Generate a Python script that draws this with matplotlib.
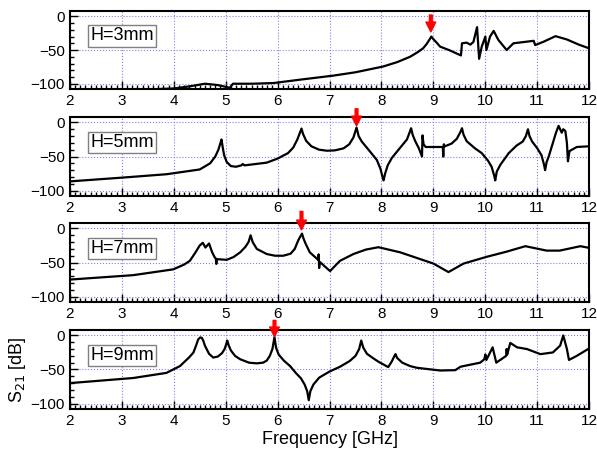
import matplotlib
matplotlib.use("Agg")
import matplotlib.pyplot as plt
from matplotlib.ticker import MultipleLocator

plt.rcParams['font.family'] = ['Liberation Sans', 'DejaVu Sans']

# H = 3 mm
f3 = [2.0, 3.0, 4.0, 4.3, 4.6, 4.85, 5.02, 5.08, 5.14, 5.5, 5.92, 6.43, 7.07, 7.5,
      8.03, 8.3, 8.55, 8.7, 8.8, 8.87, 8.92, 8.96, 9.0, 9.05, 9.13, 9.3, 9.53, 9.55,
      9.64, 9.71, 9.77, 9.84, 9.88, 9.93, 10.0, 10.02, 10.09, 10.16, 10.25, 10.41,
      10.54, 10.93, 10.96, 11.12, 11.35, 11.57, 11.8, 12.0]
s3 = [-112, -110, -107, -104, -100, -102, -105, -106, -100, -100, -99, -94, -88, -83,
      -74.5, -68, -60, -53, -47.5, -41, -35, -30, -34, -38, -45, -50, -58, -40,
      -39, -42, -38, -16, -63, -45, -30, -50, -30, -21.6, -35, -50,
      -40, -36.3, -42.6, -37.7, -29.4, -34.3, -42, -47.5]

# H = 5 mm
f5 = [2.0, 3.0, 3.86, 4.5, 4.7, 4.8, 4.86, 4.9, 4.92, 4.94, 4.97, 5.02, 5.1, 5.2,
      5.3, 5.33, 5.36, 5.79, 6.0, 6.2, 6.3, 6.38, 6.43, 6.46, 6.49, 6.55, 6.65, 6.8,
      6.95, 7.1, 7.27, 7.38, 7.46, 7.52, 7.56, 7.62, 7.75, 7.91, 7.98, 8.02, 8.04,
      8.07, 8.12, 8.2, 8.35, 8.49, 8.54, 8.57, 8.6, 8.65, 8.72, 8.78, 8.79, 8.81,
      8.85, 9.18, 9.19, 9.2, 9.22, 9.35, 9.45, 9.52, 9.55, 9.58, 9.64, 9.8, 9.93,
      10.05, 10.12, 10.17, 10.19, 10.22, 10.29, 10.45, 10.6, 10.72, 10.78, 10.82,
      10.85, 10.9, 11.0, 11.08, 11.13, 11.15, 11.18, 11.22, 11.3, 11.36, 11.41,
      11.47, 11.5, 11.54, 11.57, 11.59, 11.62, 11.76, 12.0]
s5 = [-86.5, -81, -76, -69, -60, -50, -40, -30, -25, -35, -48, -58, -64, -65,
      -63, -61, -63, -59, -53, -45, -37, -25, -15, -9, -17, -27, -35, -40,
      -41.5, -41, -38, -32, -22, -7.5, -20, -28, -40, -55, -68, -80, -85,
      -75, -63, -52, -38, -25, -15, -8.5, -18, -27.5, -38, -50, -19, -32,
      -36, -36, -50, -32, -35, -31, -24, -14, -8.5, -18, -27.5, -38, -45,
      -56, -65, -78, -85, -72, -62, -45, -34, -28, -20, -10,
      -20, -28, -38, -48, -62, -70, -58, -50, -30, -15, -5,
      -15, -10, -12.5, -30, -57, -42, -36, -35]

# H = 7 mm
f7 = [2.0, 3.22, 3.99, 4.2, 4.31, 4.42, 4.5, 4.56, 4.61, 4.68, 4.74, 4.79, 4.81,
      4.82, 4.83, 5.02, 5.15, 5.28, 5.38, 5.44, 5.48, 5.52, 5.6, 5.79, 5.95, 6.11,
      6.25, 6.33, 6.4, 6.47, 6.5, 6.54, 6.62, 6.78, 6.79, 6.8, 6.81, 7.01, 7.2,
      7.46, 7.7, 7.94, 8.36, 9.0, 9.29, 9.58, 10.03, 10.41, 10.77, 11.18, 11.43,
      11.83, 12.0]
s7 = [-75, -68.5, -60, -53, -47.5, -35, -25, -21, -28, -22, -35, -42.5, -44,
      -52, -45, -46, -42, -35, -27, -20, -10, -20, -30, -37.5, -40, -40,
      -37, -30, -17, -7.5, -15, -22.5, -35, -46, -38, -58, -49, -62.5, -47.5,
      -37.5, -31, -27.5, -35, -51.5, -64, -51.5, -41.5, -34, -26, -32.5, -32.5,
      -26, -28.5]

# H = 9 mm
f9 = [2.0, 3.22, 3.86, 4.12, 4.3, 4.38, 4.43, 4.47, 4.51, 4.54, 4.57, 4.6, 4.68,
      4.76, 4.85, 4.93, 4.98, 5.01, 5.03, 5.06, 5.1, 5.18, 5.28, 5.45, 5.6, 5.72,
      5.79, 5.85, 5.9, 5.94, 5.97, 6.02, 6.12, 6.24, 6.35, 6.45, 6.52, 6.57, 6.6,
      6.63, 6.69, 6.8, 7.0, 7.2, 7.39, 7.5, 7.57, 7.61, 7.65, 7.72, 7.85, 7.95,
      8.13, 8.2, 8.25, 8.27, 8.3, 8.4, 8.55, 8.68, 9.13, 9.42, 9.52, 9.58, 9.9,
      9.98, 10.0, 10.02, 10.14, 10.21, 10.4, 10.41, 10.42, 10.48, 10.61, 10.8,
      11.06, 11.3, 11.44, 11.5, 11.57, 11.61, 11.76, 12.0]
s9 = [-70, -62.5, -55, -45, -32, -25, -15, -6, -3, -3.5, -8, -15, -27,
      -32.5, -31, -26, -20, -13, -7.5, -15, -22, -30, -35, -40, -41, -40,
      -37, -30, -20, -2.5, -18, -28, -37, -45, -55, -63, -72, -82, -95,
      -82, -72, -62, -53, -46, -37.5, -30, -20, -7.5, -18, -27, -34, -39,
      -46.5, -38, -30, -27.5, -33, -40, -45, -47.5, -51.5, -51, -46, -45, -40,
      -35, -28, -36, -17.5, -40, -30, -20, -28, -11, -17.5, -20,
      -27.5, -25, -15, 0, -20, -36, -30, -19]

series = [(f3, s3), (f5, s5), (f7, s7), (f9, s9)]
labels = ['H=3mm', 'H=5mm', 'H=7mm', 'H=9mm']
# arrow: x position, tail y, head y (dB)
arrows = [(8.95, 2, -23), (7.52, 20, -5), (6.46, 25, -2), (5.94, 22, -2)]

fig = plt.figure(figsize=(5.97, 4.57), dpi=100)
bottoms = [0.805, 0.571, 0.339, 0.105]
heights = [0.171, 0.173, 0.173, 0.173]

axes = []
for i in range(4):
    ax = fig.add_axes([0.117, bottoms[i], 0.870, heights[i]])
    f, s = series[i]
    ax.plot(f, s, color='black', lw=1.6, zorder=3)
    ax.set_xlim(2, 12)
    ax.set_ylim(-108, 8)
    ax.xaxis.set_major_locator(MultipleLocator(1))
    ax.xaxis.set_minor_locator(MultipleLocator(0.1))
    ax.yaxis.set_major_locator(MultipleLocator(50))
    ax.yaxis.set_minor_locator(MultipleLocator(10))
    ax.tick_params(which='both', direction='in', top=False, right=False,
                   labelsize=11, width=1.0)
    ax.tick_params(which='major', length=6)
    ax.tick_params(which='minor', length=3)
    ax.grid(True, which='major', color='#8080f0', linestyle=':', lw=0.8)
    for sp in ax.spines.values():
        sp.set_linewidth(1.5)
    ax.text(0.039, 0.68, labels[i], transform=ax.transAxes, fontsize=13,
            va='center', ha='left',
            bbox=dict(boxstyle='square,pad=0.12', facecolor='white', edgecolor='gray'))
    xa, yt, yh = arrows[i]
    ax.annotate('', xy=(xa, yh), xytext=(xa, yt), annotation_clip=False,
                arrowprops=dict(facecolor='red', edgecolor='red', width=2,
                                headwidth=7, headlength=7, shrink=0), zorder=5)
    axes.append(ax)

axes[3].set_xlabel('Frequency [GHz]', fontsize=13, labelpad=2)
axes[3].set_ylabel('S$_{21}$ [dB]', fontsize=13, labelpad=2)

fig.savefig('out.png', dpi=100)
